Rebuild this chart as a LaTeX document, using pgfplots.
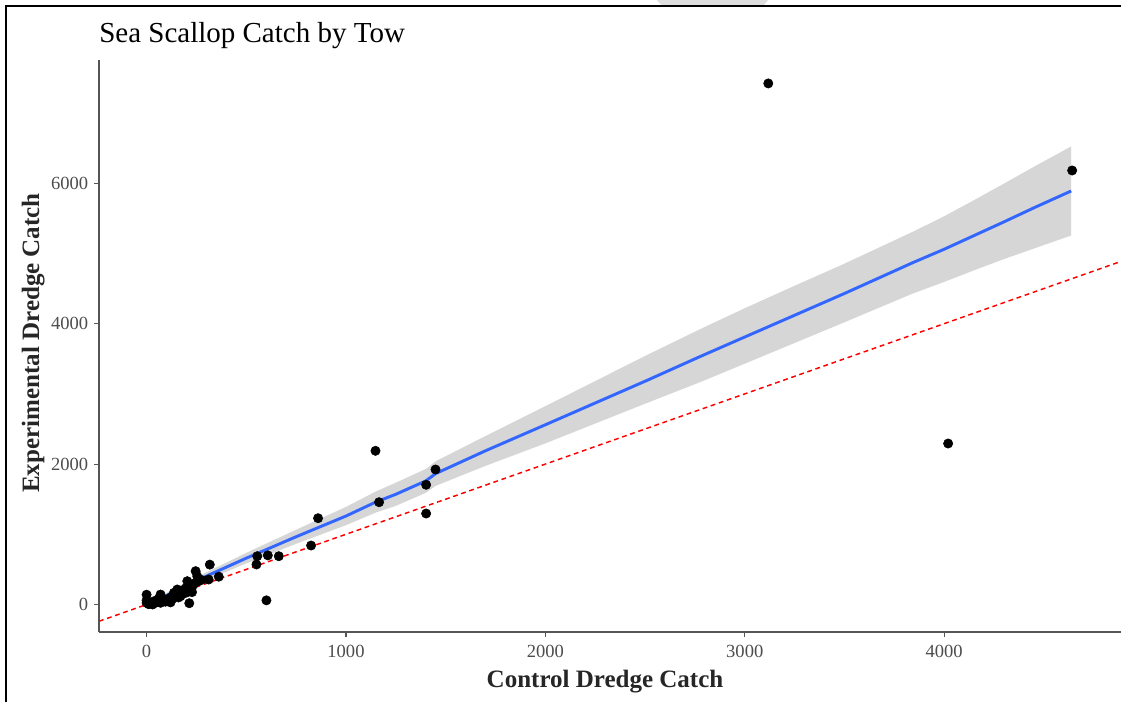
\documentclass[border=0pt]{standalone}
\usepackage{fontspec}
\setmainfont{Liberation Serif}
\usepackage{pgfplots}
\pgfplotsset{compat=1.18}
\definecolor{loessblue}{HTML}{3366FF}
\definecolor{tickgray}{HTML}{4D4D4D}
\definecolor{axisgray}{HTML}{555555}

\begin{document}
\begin{tikzpicture}[x=0.75pt,y=0.75pt]
\useasboundingbox (0,0) rectangle (1121,702);
\fill[white] (0,0) rectangle (1121,702);
% window frame
\fill[black!13] (657,702) -- (768,702) -- (763,696) -- (662,696) -- cycle;
\draw[line width=1.6pt] (6,0) -- (6,696) -- (1121,696);

% title and axis titles
\node[anchor=base west, inner sep=0pt, font=\fontsize{21.75}{26}\selectfont] at (99,659.7) {Sea Scallop Catch by Tow};
\node[anchor=base, inner sep=0pt, font=\fontsize{18.75}{22}\selectfont\bfseries, text=black!85] at (605,14.7) {Control Dredge Catch};
\node[anchor=base, rotate=90, inner sep=0pt, font=\fontsize{18.75}{22}\selectfont\bfseries, text=black!85] at (39,359) {Experimental Dredge Catch};

\begin{axis}[
  at={(74.25pt,52.5pt)}, anchor=south west,
  scale only axis,
  width=766.5pt, height=429pt,
  xmin=-238.7, xmax=4887,
  ymin=-391.7, ymax=7756,
  axis x line*=bottom, axis y line*=left,
  axis line style={axisgray, line width=0.8pt},
  xtick={0,1000,2000,3000,4000},
  ytick={0,2000,4000,6000},
  tick align=outside,
  major tick length=3.4pt,
  every tick/.style={axisgray, line width=0.8pt},
  /pgf/number format/assume math mode=true,
  /pgf/number format/1000 sep={},
  ticklabel style={font=\fontsize{13.9}{16}\selectfont, text=tickgray, inner sep=0pt},
  xticklabel style={anchor=north, yshift=-6pt},
  yticklabel style={anchor=east, xshift=-4.5pt},
  clip=true,
]
% tows
\addplot[only marks, mark=*, mark size=3.5pt, draw=black, fill=black] table {
x y
3118 7422
4020 2293
4642 6182
1148 2189
1449 1923
1402 1705
1166 1457
1402 1296
860 1229
825 840
663 688
608 700
555 688
551 570
601 59
317 568
362 396
311 356
246 475
254 403
214 18
228 176
204 332
0 140
0 24
0 60
10 5
20 15
30 0
40 50
50 30
60 80
70 142
70 24
85 60
95 40
104 71
120 100
120 30
130 80
137 166
150 140
154 214
160 100
170 118
180 150
190 200
195 230
200 170
212 261
230 260
240 300
260 330
275 350
};
% confidence band of the smoother
\addplot[draw=none, fill=black!40, fill opacity=0.4] coordinates {
(0,35) (100,165) (250,390) (500,735) (750,1065) (1000,1390) (1150,1610)
(1250,1735) (1400,1930) (1450,2040) (1700,2400) (2000,2825) (2500,3540)
(2777,3923) (3000,4220) (3250,4540) (3500,4855) (3845,5312) (4000,5530)
(4150,5760) (4300,5995) (4450,6235) (4637,6524)
(4637,5256) (4450,5070) (4300,4920) (4150,4760) (4000,4595) (3845,4432)
(3500,4020) (3250,3725) (3000,3430) (2777,3168) (2500,2860) (2000,2295)
(1700,1975) (1450,1690) (1400,1590)
(1250,1405) (1150,1310) (1000,1130) (750,865) (500,585) (250,290) (100,85) (0,-35)
} -- cycle;
% smoother
\addplot[loessblue, line width=2.2pt] coordinates {
(0,0) (100,125) (250,340) (500,660) (750,965) (1000,1260) (1150,1460)
(1250,1570) (1400,1760) (1450,1865) (1700,2190) (2000,2560) (2500,3180)
(2777,3533) (3000,3810) (3250,4120) (3500,4430) (3845,4872) (4000,5060)
(4150,5255) (4300,5450) (4450,5650) (4637,5890)
};
% one-to-one line
\addplot[red, line width=1.1pt, dash pattern=on 3.6pt off 2.8pt] coordinates {
(-238.7,-238.7) (4887,4887)
};
\end{axis}
\end{tikzpicture}
\end{document}
